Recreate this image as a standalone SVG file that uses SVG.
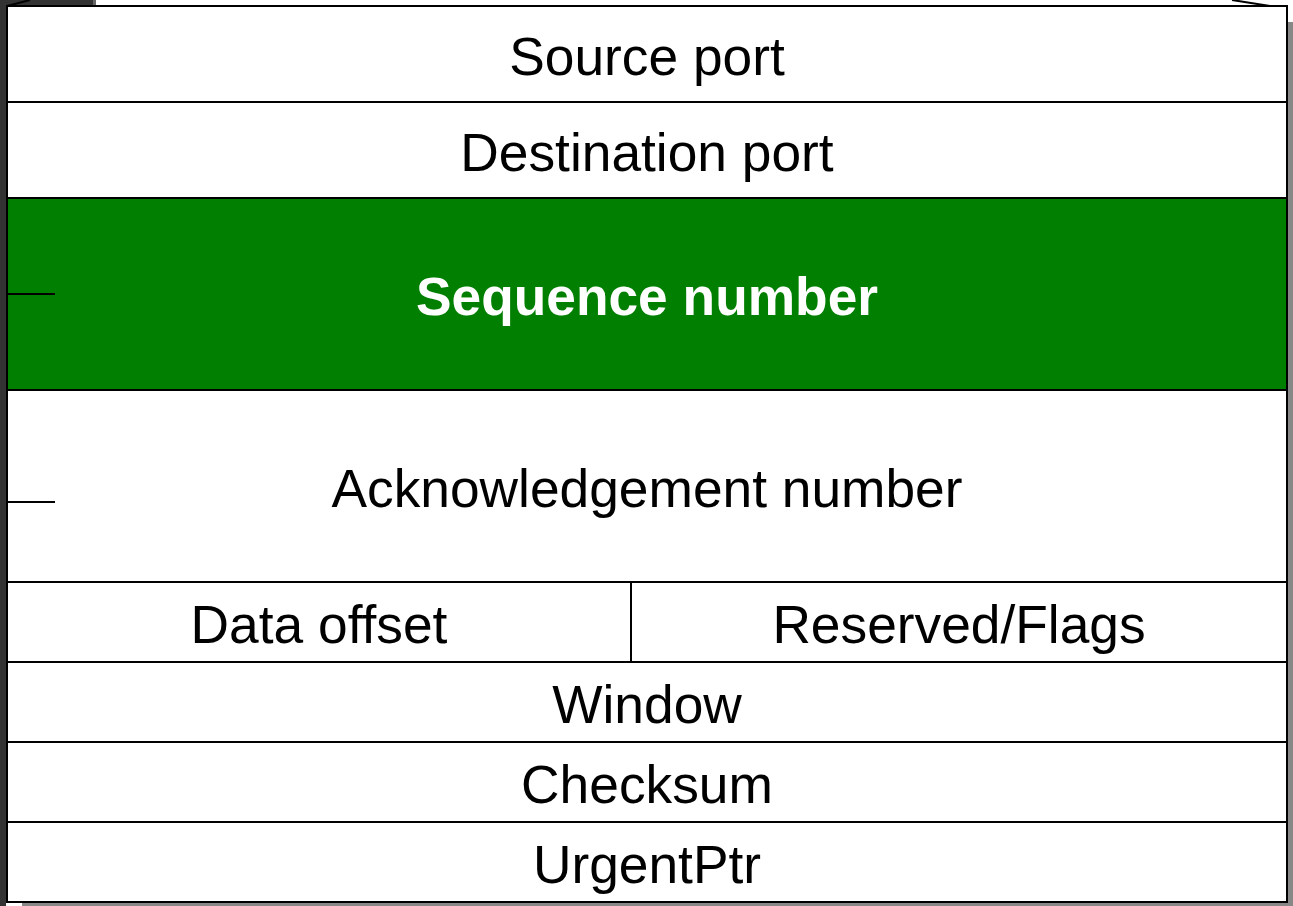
<svg xmlns="http://www.w3.org/2000/svg" width="1293" height="906" viewBox="0 0 1293 906">
  <style>
    .cell { fill: #ffffff; stroke: #000000; stroke-width: 2; }
    .hl { fill: #007f00; stroke: #000000; stroke-width: 2; }
    .lbl { font-family: "Liberation Sans", Arial, sans-serif; font-size: 53.3px; fill: #000000; text-anchor: middle; }
    .lbl-b { font-family: "Liberation Sans", Arial, sans-serif; font-size: 53.3px; font-weight: bold; fill: #ffffff; text-anchor: middle; }
    .wire { stroke: #000000; stroke-width: 2; fill: none; }
  </style>

  <!-- window backdrop around the header -->
  <rect x="0" y="0" width="1293" height="906" fill="#ffffff"/>
  <rect x="0" y="0" width="6" height="906" fill="#333333"/>
  <rect x="0" y="0" width="93" height="5" fill="#333333"/>
  <rect x="93" y="0" width="3" height="5" fill="#666666"/>
  <rect x="1288" y="22" width="5" height="884" fill="#888888"/>
  <rect x="22" y="903" width="1271" height="3" fill="#888888"/>

  <!-- header fields -->
  <g id="source-port">
    <rect class="cell" x="7" y="6" width="1280" height="96"/>
    <text class="lbl" x="647" y="75">Source port</text>
  </g>
  <g id="destination-port">
    <rect class="cell" x="7" y="102" width="1280" height="96"/>
    <text class="lbl" x="647" y="171">Destination port</text>
  </g>
  <g id="sequence-number">
    <rect class="hl" x="7" y="198" width="1280" height="192"/>
    <text class="lbl-b" x="647" y="315">Sequence number</text>
  </g>
  <g id="acknowledgement-number">
    <rect class="cell" x="7" y="390" width="1280" height="192"/>
    <text class="lbl" x="647" y="507">Acknowledgement number</text>
  </g>
  <g id="data-offset">
    <rect class="cell" x="7" y="582" width="624" height="80"/>
    <text class="lbl" x="319" y="643">Data offset</text>
  </g>
  <g id="reserved-flags">
    <rect class="cell" x="631" y="582" width="656" height="80"/>
    <text class="lbl" x="959" y="643">Reserved/Flags</text>
  </g>
  <g id="window">
    <rect class="cell" x="7" y="662" width="1280" height="80"/>
    <text class="lbl" x="647" y="723">Window</text>
  </g>
  <g id="checksum">
    <rect class="cell" x="7" y="742" width="1280" height="80"/>
    <text class="lbl" x="647" y="803">Checksum</text>
  </g>
  <g id="urgent-ptr">
    <rect class="cell" x="7" y="822" width="1280" height="80"/>
    <text class="lbl" x="647" y="883">UrgentPtr</text>
  </g>

  <!-- connector stubs -->
  <g id="connectors">
    <line class="wire" x1="7" y1="294" x2="55" y2="294"/>
    <line class="wire" x1="7" y1="502" x2="55" y2="502"/>
    <line class="wire" x1="7" y1="6" x2="30" y2="0"/>
    <line class="wire" x1="1232" y1="0" x2="1270" y2="6"/>
  </g>
</svg>
